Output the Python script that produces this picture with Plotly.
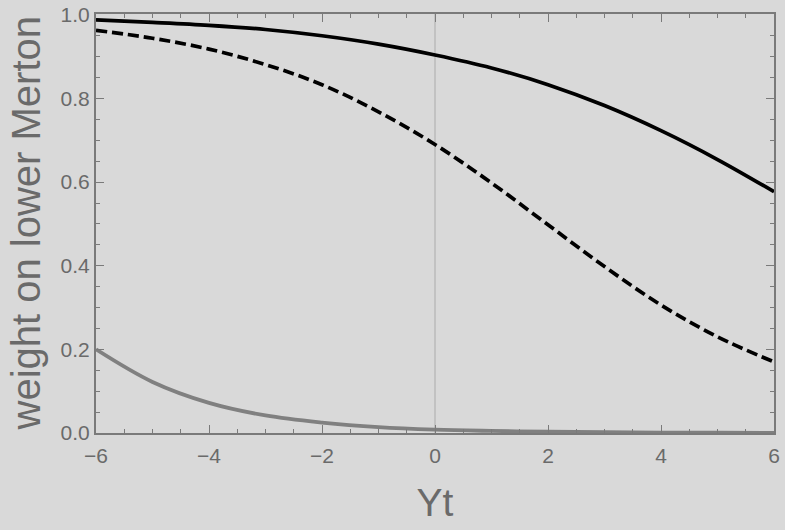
import plotly.graph_objects as go

# values
yt = [-6, -5, -4, -3, -2, -1, 0, 1, 2, 3, 4, 5, 6]
w_solid = [0.988, 0.982, 0.975, 0.965, 0.950, 0.930, 0.904, 0.873, 0.833, 0.783, 0.723, 0.654, 0.577]
w_dashed = [0.963, 0.944, 0.918, 0.881, 0.833, 0.768, 0.690, 0.598, 0.498, 0.398, 0.306, 0.230, 0.170]
w_gray = [0.200, 0.122, 0.072, 0.042, 0.025, 0.014, 0.008, 0.005, 0.003, 0.002, 0.001, 0.0006, 0.0003]

bg = '#D9D9D9'
axis_col = '#7A7A7A'
text_col = '#6A6A6A'

fig = go.Figure()

fig.add_trace(go.Scatter(x=[0, 0], y=[0, 1.01], mode='lines',
                         line=dict(color='#ABABAB', width=1), showlegend=False))
fig.add_trace(go.Scatter(x=yt, y=w_gray, mode='lines', line_shape='spline',
                         line=dict(color='#808080', width=3.8), showlegend=False))
fig.add_trace(go.Scatter(x=yt, y=w_dashed, mode='lines', line_shape='spline',
                         line=dict(color='black', width=3.7, dash='11px,5px'), showlegend=False))
fig.add_trace(go.Scatter(x=yt, y=w_solid, mode='lines', line_shape='spline',
                         line=dict(color='black', width=3.7), showlegend=False))

fig.update_layout(
    width=785, height=530,
    margin=dict(l=96, r=11, t=14, b=97),
    paper_bgcolor=bg, plot_bgcolor=bg,
    font=dict(family='Liberation Sans, Arial, sans-serif', color=text_col, size=21),
)
fig.update_xaxes(
    range=[-6, 6], tickvals=[-6, -4, -2, 0, 2, 4, 6], automargin=False,
    tickfont=dict(size=21), ticklabelstandoff=3,
    showgrid=False, zeroline=False,
    showline=True, linecolor=axis_col, linewidth=2, mirror='allticks',
    ticks='inside', ticklen=8, tickcolor=axis_col, tickwidth=1,
    minor=dict(dtick=0.5, ticks='inside', ticklen=4, tickcolor=axis_col, tickwidth=1),
    title=dict(text='Yt', font=dict(size=39, color=text_col), standoff=22),
)
fig.update_yaxes(
    range=[0, 1.002], tickvals=[0, 0.2, 0.4, 0.6, 0.8, 1.0], tickformat='.1f', automargin=False,
    tickfont=dict(size=21),
    showgrid=False, zeroline=False,
    showline=True, linecolor=axis_col, linewidth=2, mirror='allticks',
    ticks='inside', ticklen=8, tickcolor=axis_col, tickwidth=1,
    minor=dict(dtick=0.05, ticks='inside', ticklen=4, tickcolor=axis_col, tickwidth=1),
)

# y title placed as an annotation so it can sit closer to the page edge
fig.add_annotation(text='weight on lower Merton', textangle=-90,
                   xref='paper', yref='paper', x=-71 / 678, y=0.5,
                   xanchor='center', yanchor='middle', showarrow=False,
                   font=dict(size=40, color=text_col))

fig.write_html("out.html", config={'displayModeBar': False},
               post_script="document.body.style.margin='0';")
